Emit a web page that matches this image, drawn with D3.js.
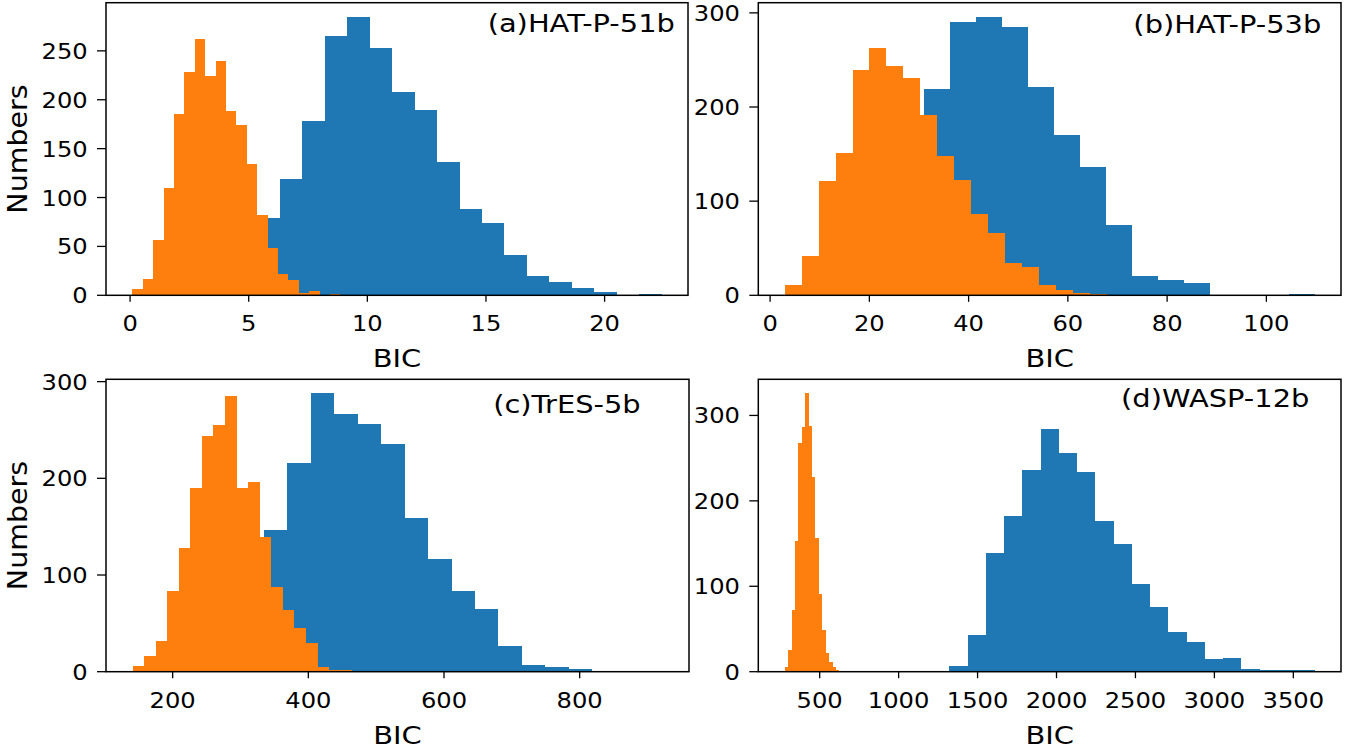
<!DOCTYPE html>
<html>
<head>
<meta charset="utf-8">
<script src="https://cdn.jsdelivr.net/npm/d3@7"></script>
<style>
  body { margin: 0; background: #fff; }
  svg text { font-family: "DejaVu Sans", sans-serif; fill: #000; }
</style>
</head>
<body>
<div id="chart"></div>
<script>
// histogram counts, 20 equal bins between each range
var aBlueRange = [3.48, 22.4];
var aBlueCounts = [8, 30, 79, 119, 178, 265, 285, 253, 208, 190, 136, 88, 74, 41, 20, 14, 7, 3, 0, 1];
var aOrangeRange = [0.1, 8.86];
var aOrangeCounts = [6, 17, 57, 110, 185, 228, 262, 224, 240, 188, 174, 134, 82, 48, 22, 16, 2, 4, 0, 1];

var bBlueRange = [4.9, 109.7];
var bBlueCounts = [2, 10, 30, 70, 145, 219, 290, 296, 285, 221, 170, 136, 75, 21, 16, 13, 0, 0, 0, 1];
var bOrangeRange = [2.96, 71.2];
var bOrangeCounts = [11, 42, 121, 151, 239, 263, 244, 231, 191, 148, 123, 86, 66, 34, 30, 11, 6, 2, 1, 0];

var cBlueRange = [230.9, 922.1];
var cBlueCounts = [4, 30, 90, 147, 216, 288, 266, 256, 236, 159, 117, 83, 65, 27, 7, 5, 3, 0, 0, 1];
var cOrangeRange = [140.8, 481.8];
var cOrangeCounts = [6, 16, 32, 83, 128, 190, 244, 255, 285, 190, 196, 139, 88, 64, 45, 30, 5, 2, 2, 0];

var dBlueRange = [1320.9, 3634.2];
var dBlueCounts = [7, 43, 139, 182, 236, 284, 256, 234, 176, 149, 103, 76, 46, 35, 15, 16, 3, 2, 2, 2];
var dOrangeRange = [279, 711];
var dOrangeCounts = [5, 25, 72, 153, 268, 286, 326, 288, 228, 156, 91, 49, 22, 11, 6, 2, 1, 0, 0, 1];

var xTicks = [[0, 5, 10, 15, 20], [0, 20, 40, 60, 80, 100], [200, 400, 600, 800], [500, 1000, 1500, 2000, 2500, 3000, 3500]];
var yTicks = [[0, 50, 100, 150, 200, 250], [0, 100, 200, 300], [0, 100, 200, 300], [0, 100, 200, 300]];
var titles = ["(a)HAT-P-51b", "(b)HAT-P-53b", "(c)TrES-5b", "(d)WASP-12b"];

var blueColor = "#1f77b4", orangeColor = "#ff7f0e";

// layout
var width = 1363, height = 753;
var SX = 1.18; // horizontal stretch of the original figure
var boxes = [
    {x0: 106, x1: 688, y0: 2.7, y1: 295.3},
    {x0: 758.3, x1: 1341, y0: 2.7, y1: 295.3},
    {x0: 106, x1: 689, y0: 379.3, y1: 671.7},
    {x0: 758.3, x1: 1341, y0: 379.3, y1: 671.7}
];
var titleAt = [[15.07, 269], [73.2, 279], [672.5, 268], [2409, 310]]; // data coords of title start

var panels = [
    {blue: [aBlueRange, aBlueCounts], orange: [aOrangeRange, aOrangeCounts]},
    {blue: [bBlueRange, bBlueCounts], orange: [bOrangeRange, bOrangeCounts]},
    {blue: [cBlueRange, cBlueCounts], orange: [cOrangeRange, cOrangeCounts]},
    {blue: [dBlueRange, dBlueCounts], orange: [dOrangeRange, dOrangeCounts]}
];

var svg = d3.select("#chart")
    .append("svg")
    .attr("width", width)
    .attr("height", height);

function label(sel, x, y, txt, size, anchor, rot, sx) {
    var g = sel.append("g")
        .attr("transform", "translate(" + x + "," + y + ") scale(" + (sx || SX) + ",1)" + (rot ? " rotate(" + rot + ")" : ""));
    g.append("text")
        .attr("text-anchor", anchor)
        .style("font-size", size + "px")
        .text(txt);
}

function bins(range, counts) {
    var w = (range[1] - range[0]) / counts.length;
    return counts.map(function(c, i) {
        return {x0: range[0] + i * w, x1: range[0] + (i + 1) * w, n: c};
    });
}

panels.forEach(function(p, k) {
    var box = boxes[k];
    var lo = Math.min(p.blue[0][0], p.orange[0][0]);
    var hi = Math.max(p.blue[0][1], p.orange[0][1]);
    var pad = (hi - lo) * 0.05;
    var ymax = d3.max(p.blue[1].concat(p.orange[1])) * 1.05;

    var x = d3.scaleLinear().domain([lo - pad, hi + pad]).range([box.x0, box.x1]);
    var y = d3.scaleLinear().domain([0, ymax]).range([box.y1, box.y0]);

    var g = svg.append("g");

    [[p.blue, blueColor], [p.orange, orangeColor]].forEach(function(s) {
        g.append("g")
            .selectAll("rect")
            .data(bins(s[0][0], s[0][1]))
            .enter()
            .append("rect")
            .attr("x", function(d) { return x(d.x0); })
            .attr("width", function(d) { return x(d.x1) - x(d.x0); })
            .attr("y", function(d) { return y(d.n); })
            .attr("height", function(d) { return y(0) - y(d.n); })
            .attr("fill", s[1])
            .attr("shape-rendering", "crispEdges");
    });

    // frame
    g.append("rect")
        .attr("x", box.x0).attr("y", box.y0)
        .attr("width", box.x1 - box.x0).attr("height", box.y1 - box.y0)
        .attr("fill", "none").attr("stroke", "#000").attr("stroke-width", 1.5);

    // x ticks
    xTicks[k].forEach(function(t) {
        g.append("line")
            .attr("x1", x(t)).attr("x2", x(t))
            .attr("y1", box.y1).attr("y2", box.y1 + 6.5)
            .attr("stroke", "#000").attr("stroke-width", 1.3);
        label(g, x(t), box.y1 + 36, t, 20.5, "middle");
    });
    // y ticks
    yTicks[k].forEach(function(t) {
        g.append("line")
            .attr("x1", box.x0 - 9).attr("x2", box.x0)
            .attr("y1", y(t)).attr("y2", y(t))
            .attr("stroke", "#000").attr("stroke-width", 1.3);
        label(g, box.x0 - 18.3, y(t) + 8, t, 20.5, "end");
    });

    label(g, (box.x0 + box.x1) / 2, box.y1 + 72, "BIC", 24.5, "middle");
    if (k % 2 == 0) {
        label(g, box.x0 - 79, (box.y0 + box.y1) / 2, "Numbers", 28.5, "middle", -90, 0.96);
    }
    label(g, x(titleAt[k][0]), y(titleAt[k][1]), titles[k], 24.5, "start");
});
</script>
</body>
</html>
